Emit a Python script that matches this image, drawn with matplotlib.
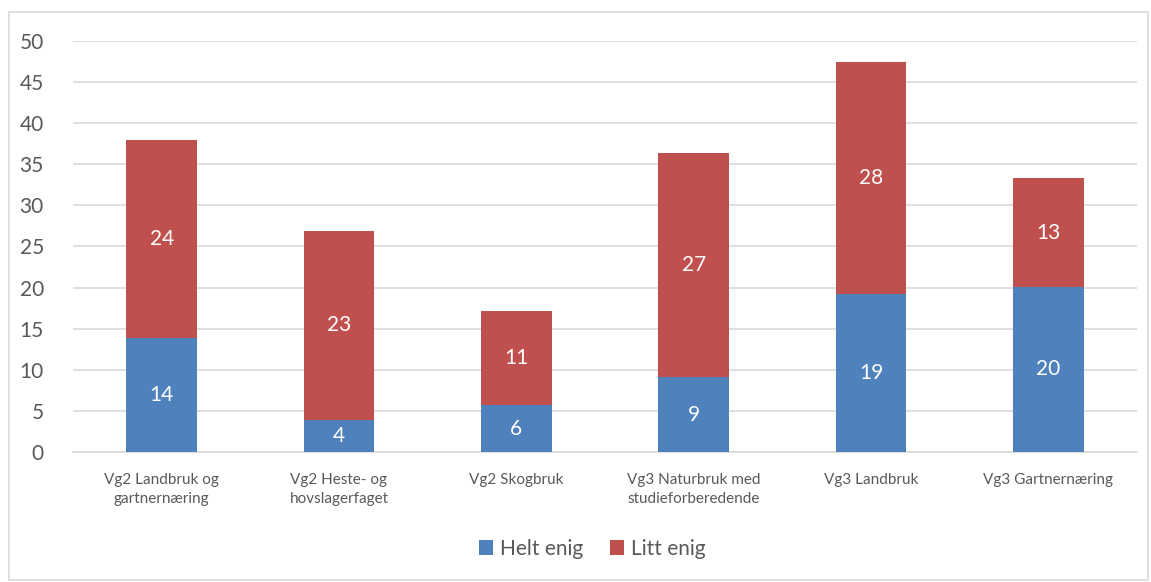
import matplotlib
matplotlib.use("Agg")
import matplotlib.pyplot as plt
from matplotlib.patches import Rectangle
import numpy as np

categories = ["Vg2 Landbruk og\ngartnernæring", "Vg2 Heste- og\nhovslagerfaget", "Vg2 Skogbruk",
              "Vg3 Naturbruk med\nstudieforberedende", "Vg3 Landbruk", "Vg3 Gartnernæring"]
helt_enig = [13.9, 3.9, 5.7, 9.1, 19.2, 20.1]
litt_enig = [24.1, 23.0, 11.4, 27.3, 28.2, 13.2]
series_names = ["Helt enig", "Litt enig"]
yticks = [0, 5, 10, 15, 20, 25, 30, 35, 40, 45, 50]

plt.rcParams['font.family'] = ['Lato', 'DejaVu Sans']
TXT = "#595959"
BLUE = "#4F81BD"
RED = "#C0504D"

fig = plt.figure(figsize=(11.51, 5.82), dpi=100)
ax = fig.add_axes([73/1151, 1-452/582, (1137-73)/1151, (452-41)/582])

x = np.arange(len(categories))
w = 0.40
b1 = ax.bar(x, helt_enig, w, color=BLUE, label=series_names[0], zorder=3)
b2 = ax.bar(x, litt_enig, w, bottom=helt_enig, color=RED, label=series_names[1], zorder=3)

for i in range(len(categories)):
    ax.text(x[i], helt_enig[i]/2, f"{helt_enig[i]:.0f}", ha="center", va="center",
            color="white", fontsize=15, zorder=4)
    ax.text(x[i], helt_enig[i] + litt_enig[i]/2, f"{litt_enig[i]:.0f}", ha="center", va="center",
            color="white", fontsize=15, zorder=4)

ax.set_xlim(-0.5, len(categories)-0.5)
ax.set_ylim(0, 50)
ax.set_yticks(yticks)
ax.set_yticklabels([str(t) for t in yticks], fontsize=15, color=TXT)
ax.set_xticks(x)
ax.set_xticklabels(categories, fontsize=11, color=TXT, linespacing=1.5)
ax.tick_params(axis='both', length=0)
ax.tick_params(axis='y', pad=21)
ax.tick_params(axis='x', pad=15)
ax.grid(axis='y', color="#D9D9D9", linewidth=1.2, zorder=0)
for s in ["top", "right", "left"]:
    ax.spines[s].set_visible(False)
ax.spines["bottom"].set_color("#D9D9D9")
ax.spines["bottom"].set_linewidth(1.2)

leg = fig.legend(handles=[b1, b2], labels=series_names, loc="center", bbox_to_anchor=(592/1151, 1-549/582),
                 ncol=2, frameon=False, fontsize=15, handlelength=0.7, handleheight=0.7,
                 handletextpad=0.3, columnspacing=1.3)
for t in leg.get_texts():
    t.set_color(TXT)

fig.patches.append(Rectangle((9/1151, 1-580/582), (1148-9)/1151, (580-12)/582, transform=fig.transFigure,
                             fill=False, edgecolor="#D9D9D9", linewidth=1.2))

fig.savefig("out.png", dpi=100, facecolor="white")
